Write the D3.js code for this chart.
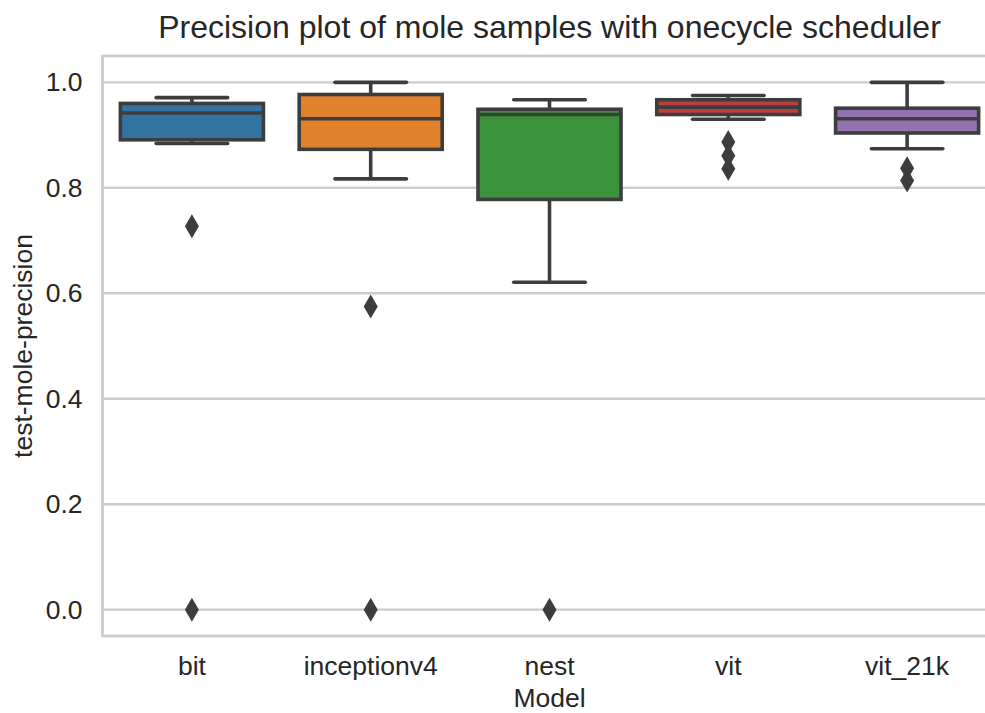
<!DOCTYPE html>
<html>
<head>
<meta charset="utf-8">
<script src="https://cdn.jsdelivr.net/npm/d3@7"></script>
<style>
  body { margin: 0; background: #fff; }
  text { font-family: "Liberation Sans", Arial, sans-serif; fill: #262626; }
</style>
</head>
<body>
<div id="chart"></div>
<script>
var models = ["bit", "inceptionv4", "nest", "vit", "vit_21k"],
    colors = ["#3274a1", "#e1812c", "#3a923a", "#c03d3e", "#9372b2"];

// box stats
var whiskerLow  = [0.884, 0.817, 0.621, 0.930, 0.874],
    q1          = [0.891, 0.873, 0.778, 0.939, 0.904],
    median      = [0.942, 0.931, 0.939, 0.953, 0.931],
    q3          = [0.960, 0.977, 0.949, 0.967, 0.951],
    whiskerHigh = [0.971, 1.000, 0.967, 0.975, 1.000];

var outliers = [
  [0.727, 0.0],
  [0.575, 0.0],
  [0.0],
  [0.887, 0.861, 0.836],
  [0.837, 0.814]
];

var yTicks = [0, 0.2, 0.4, 0.6, 0.8, 1.0];

var w = 985,
    h = 713,
    pLeft = 102.5,
    pRight = 996.5,
    pTop = 56,
    pBottom = 636,
    lineColor = "#3d3d3d";

var svg = d3.select("#chart").append("svg")
    .attr("width", w)
    .attr("height", h);

var x = d3.scaleBand()
    .domain(models)
    .range([pLeft, pRight]);

var y = d3.scaleLinear()
    .domain([-0.05, 1.05])
    .range([pBottom, pTop]);

// grid
svg.append("g")
  .selectAll("line")
    .data(yTicks)
  .enter().append("line")
    .attr("x1", pLeft)
    .attr("x2", pRight)
    .attr("y1", function(d) { return y(d); })
    .attr("y2", function(d) { return y(d); })
    .attr("stroke", "#cccccc")
    .attr("stroke-width", 2.4);

// spines
svg.append("rect")
    .attr("x", pLeft)
    .attr("y", pTop)
    .attr("width", pRight - pLeft)
    .attr("height", pBottom - pTop)
    .attr("fill", "none")
    .attr("stroke", "#cccccc")
    .attr("stroke-width", 2.8);

// axes
svg.append("g")
    .attr("transform", "translate(" + pLeft + ",0)")
    .call(d3.axisLeft(y).tickValues(yTicks).tickFormat(d3.format(".1f")).tickSize(0).tickPadding(20));

svg.append("g")
    .attr("transform", "translate(0," + pBottom + ")")
    .call(d3.axisBottom(x).tickSize(0).tickPadding(20));

svg.selectAll(".domain").remove();
svg.selectAll(".tick text")
    .style("font-size", "26.5px")
    .attr("fill", "#262626");

var band = x.bandwidth(),
    boxW = band * 0.8,
    capW = boxW * 0.5;

var g = svg.selectAll("g.box")
    .data(models)
  .enter().append("g")
    .attr("class", "box")
    .attr("transform", function(d) { return "translate(" + (x(d) + band / 2) + ",0)"; });

g.append("line")
    .attr("y1", function(d, i) { return y(whiskerLow[i]); })
    .attr("y2", function(d, i) { return y(q1[i]); });

g.append("line")
    .attr("y1", function(d, i) { return y(q3[i]); })
    .attr("y2", function(d, i) { return y(whiskerHigh[i]); });

g.append("rect")
    .attr("x", -boxW / 2)
    .attr("width", boxW)
    .attr("y", function(d, i) { return y(q3[i]); })
    .attr("height", function(d, i) { return y(q1[i]) - y(q3[i]); })
    .attr("fill", function(d, i) { return colors[i]; })
    .attr("stroke", lineColor)
    .attr("stroke-width", 3.6);

g.append("line")
    .attr("x1", -boxW / 2)
    .attr("x2", boxW / 2)
    .attr("y1", function(d, i) { return y(median[i]); })
    .attr("y2", function(d, i) { return y(median[i]); });

[whiskerLow, whiskerHigh].forEach(function(arr) {
  g.append("line")
      .attr("x1", -capW / 2)
      .attr("x2", capW / 2)
      .attr("y1", function(d, i) { return y(arr[i]); })
      .attr("y2", function(d, i) { return y(arr[i]); })
      .attr("stroke-linecap", "round");
});

g.selectAll("line")
    .attr("stroke", lineColor)
    .attr("stroke-width", 3.6);

// fliers as thin diamonds
g.selectAll("path")
    .data(function(d, i) { return outliers[i]; })
  .enter().append("path")
    .attr("d", function(v) {
      var cy = y(v);
      return "M0," + (cy - 12) + "L7," + cy + "L0," + (cy + 12) + "L-7," + cy + "Z";
    })
    .attr("fill", lineColor);

// labels
svg.append("text")
    .attr("x", (pLeft + pRight) / 2)
    .attr("y", 38)
    .attr("text-anchor", "middle")
    .style("font-size", "32px")
    .text("Precision plot of mole samples with onecycle scheduler");

svg.append("text")
    .attr("x", (pLeft + pRight) / 2)
    .attr("y", 707)
    .attr("text-anchor", "middle")
    .style("font-size", "26.5px")
    .text("Model");

svg.append("text")
    .attr("transform", "translate(32," + ((pTop + pBottom) / 2) + ")rotate(-90)")
    .attr("text-anchor", "middle")
    .style("font-size", "26.5px")
    .text("test-mole-precision");
</script>
</body>
</html>
